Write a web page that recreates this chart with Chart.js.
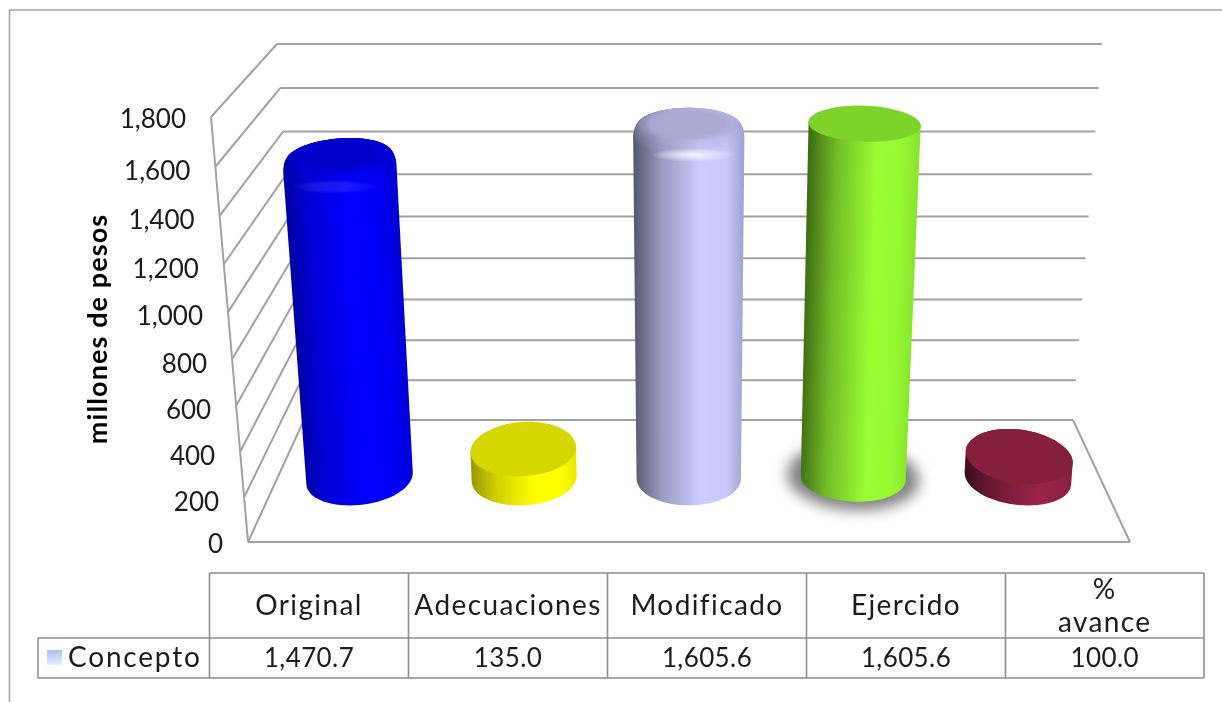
<!DOCTYPE html>
<html>
<head>
<meta charset="utf-8">
<style>
	html, body { margin: 0; padding: 0; background: #ffffff; }
	canvas { display: block; }
</style>
<script src="https://cdn.jsdelivr.net/npm/chart.js@4"></script>
</head>
<body>
<canvas id="chart" width="1222" height="702"></canvas>
<script>
const categories = ["Original", "Adecuaciones", "Modificado", "Ejercido", ["%", "avance"]];
const values = [1470.7, 135.0, 1605.6, 1605.6, 100.0];
const seriesName = "Concepto";
const axisTitle = "millones de pesos";

const FONT = "Lato, sans-serif";
const TEXT_COLOR = "#1c1c1c";
const LINE_COLOR = "#a2a2a2";
const TABLE_COLOR = "#8e8e8e";

// side shading left to right, top cap, and whether the top edge is rounded
const cylinderStyles = [
	{ stops: [[0, "#0000a8"], [0.2, "#0000d8"], [0.55, "#0000ff"], [0.85, "#0000f4"], [1, "#0000d4"]], cap: "#0000c8", rim: "rgba(60,60,255,0.3)", bevel: true },
	{ stops: [[0, "#9a9a00"], [0.25, "#d4d400"], [0.6, "#ffff00"], [0.85, "#ffff00"], [1, "#e8e800"]], cap: "#d6d600" },
	{ stops: [[0, "#585a74"], [0.25, "#9b9bc2"], [0.6, "#ccccff"], [0.85, "#c8c8fa"], [1, "#a4a4d4"]], cap: "#a9a9d2", rim: "rgba(244,244,255,0.95)", bevel: true },
	{ stops: [[0, "#3f6f14"], [0.25, "#72bb28"], [0.62, "#99ff33"], [0.85, "#96fa32"], [1, "#88e62c"]], cap: "#7dd32a", shadow: true, baseDepth: 0.2 },
	{ stops: [[0, "#3c0f1e"], [0.3, "#701a36"], [0.72, "#9c2449"], [1, "#8a2041"]], cap: "#841f3c" },
];

// corners of the 3D box: front plane comes from the chart area, back plane from these
const back = { left: 304, right: 1073, bottom: 420, top: 44, leftLean: 27, rightLean: 29 };
const frontLean = { left: 37, right: 35 };
const BAR_DEPTH = 0.53;
const BAR_RADIUS_DEPTH = 0.23;

function warp(t) {
	return t / (1.0607 - 0.0607 * t);
}

function project(area, u, t, d) {
	const f = warp(t);
	const frontLeft = area.left - frontLean.left * f;
	const frontRight = area.right + frontLean.right * f;
	const backLeft = back.left - back.leftLean * f;
	const backRight = back.right + back.rightLean * f;
	const frontX = frontLeft + (frontRight - frontLeft) * u;
	const backX = backLeft + (backRight - backLeft) * u;
	const frontY = area.bottom - (area.bottom - area.top) * f;
	const backY = back.bottom - (back.bottom - back.top) * f;
	return { x: frontX + (backX - frontX) * d, y: frontY + (backY - frontY) * d };
}

function line(ctx, a, b) {
	ctx.beginPath();
	ctx.moveTo(a.x, a.y);
	ctx.lineTo(b.x, b.y);
	ctx.stroke();
}

function drawWalls(chart) {
	const { ctx, chartArea: area } = chart;
	const yScale = chart.scales.y;
	ctx.save();
	ctx.strokeStyle = LINE_COLOR;
	ctx.lineWidth = 2;
	yScale.ticks.forEach((tick) => {
		const t = (area.bottom - yScale.getPixelForValue(tick.value)) / (area.bottom - area.top);
		line(ctx, project(area, 0, t, 0), project(area, 0, t, 1));
		line(ctx, project(area, 0, t, 1), project(area, 1, t, 1));
	});
	line(ctx, project(area, 0, 0, 0), project(area, 0, 1, 0));
	line(ctx, project(area, 0, 0, 0), project(area, 1, 0, 0));
	line(ctx, project(area, 1, 0, 0), project(area, 1, 0, 1));
	ctx.restore();
}

function drawTickLabels(chart) {
	const { ctx, chartArea: area } = chart;
	const yScale = chart.scales.y;
	ctx.save();
	ctx.fillStyle = TEXT_COLOR;
	ctx.font = "400 26px " + FONT;
	ctx.textAlign = "right";
	ctx.textBaseline = "middle";
	yScale.ticks.forEach((tick) => {
		const t = (area.bottom - yScale.getPixelForValue(tick.value)) / (area.bottom - area.top);
		const p = project(area, 0, t, 0);
		const nudge = tick.value === 0 || tick.value === 1800 ? 2.5 : 5;
		ctx.fillText(tick.label, p.x - 25, p.y + nudge);
	});
	ctx.restore();
}

function ringPoints(area, u, t, ru, d, rd) {
	const points = [];
	for (let i = 0; i < 72; i += 1) {
		const a = (i / 72) * Math.PI * 2;
		points.push(project(area, u + ru * Math.cos(a), t, d + rd * Math.sin(a)));
	}
	return points;
}

function fillOutline(ctx, points) {
	ctx.beginPath();
	points.forEach((p, i) => (i === 0 ? ctx.moveTo(p.x, p.y) : ctx.lineTo(p.x, p.y)));
	ctx.closePath();
	ctx.fill();
}

function convexHull(points) {
	const sorted = points.slice().sort((a, b) => a.x - b.x || a.y - b.y);
	const cross = (o, a, b) => (a.x - o.x) * (b.y - o.y) - (a.y - o.y) * (b.x - o.x);
	const lower = [];
	sorted.forEach((p) => {
		while (lower.length >= 2 && cross(lower[lower.length - 2], lower[lower.length - 1], p) <= 0) {
			lower.pop();
		}
		lower.push(p);
	});
	const upper = [];
	sorted.slice().reverse().forEach((p) => {
		while (upper.length >= 2 && cross(upper[upper.length - 2], upper[upper.length - 1], p) <= 0) {
			upper.pop();
		}
		upper.push(p);
	});
	return lower.slice(0, -1).concat(upper.slice(0, -1));
}

function sideGradient(ctx, area, u, t, ru, style) {
	const baseMid = project(area, u, 0, BAR_DEPTH);
	const topMid = project(area, u, t, BAR_DEPTH);
	const left = project(area, u - ru, t / 2, BAR_DEPTH);
	const right = project(area, u + ru, t / 2, BAR_DEPTH);
	const len = Math.hypot(topMid.x - baseMid.x, topMid.y - baseMid.y) || 1;
	const nx = -(topMid.y - baseMid.y) / len;
	const ny = (topMid.x - baseMid.x) / len;
	const half = (right.x - left.x) / 2;
	const midX = (left.x + right.x) / 2;
	const midY = (left.y + right.y) / 2;
	const gradient = ctx.createLinearGradient(midX - nx * half, midY - ny * half, midX + nx * half, midY + ny * half);
	style.stops.forEach((stop) => gradient.addColorStop(stop[0], stop[1]));
	return gradient;
}

function drawCylinder(chart, bar, style) {
	const { ctx, chartArea: area } = chart;
	const w = area.right - area.left;
	const h = area.bottom - area.top;
	const u = (bar.x - area.left) / w;
	const t = (bar.base - bar.y) / h;
	const ru = bar.width / 2 / w;
	const baseDepth = style.baseDepth || BAR_RADIUS_DEPTH;
	const shoulder = style.bevel ? t - 0.035 : t;

	if (style.shadow) {
		ctx.save();
		ctx.filter = "blur(7px)";
		ctx.fillStyle = "rgba(80,80,80,0.72)";
		fillOutline(ctx, ringPoints(area, u, 0, ru * 1.26, BAR_DEPTH + 0.01, baseDepth * 1.4));
		ctx.restore();
	}

	const gradient = sideGradient(ctx, area, u, shoulder, ru, style);
	ctx.fillStyle = gradient;
	const baseRing = ringPoints(area, u, 0, ru, BAR_DEPTH, baseDepth);
	const topRing = ringPoints(area, u, shoulder, ru, BAR_DEPTH, BAR_RADIUS_DEPTH);
	fillOutline(ctx, convexHull(baseRing.concat(topRing)));

	if (!style.bevel) {
		ctx.fillStyle = style.cap;
		fillOutline(ctx, topRing);
		return;
	}

	// rounded shoulder: stacked rings blending from the side shading into the cap
	for (let i = 1; i <= 10; i += 1) {
		const s = i / 10;
		const tt = shoulder + (t - shoulder) * Math.sin((s * Math.PI) / 2);
		const rr = ru * (1 - 0.12 * (1 - Math.cos((s * Math.PI) / 2)));
		const ring = ringPoints(area, u, tt, rr, BAR_DEPTH, BAR_RADIUS_DEPTH * (rr / ru));
		ctx.fillStyle = gradient;
		fillOutline(ctx, ring);
		ctx.globalAlpha = s * 0.6;
		ctx.fillStyle = style.cap;
		fillOutline(ctx, ring);
		ctx.globalAlpha = 1;
	}
	ctx.save();
	ctx.beginPath();
	ringPoints(area, u, t, ru * 0.88, BAR_DEPTH, BAR_RADIUS_DEPTH * 0.88).forEach((p) => ctx.lineTo(p.x, p.y));
	ctx.closePath();
	ctx.clip();
	ctx.filter = "blur(2px)";
	ctx.fillStyle = style.cap;
	fillOutline(ctx, ringPoints(area, u, t, ru * 0.74, BAR_DEPTH, BAR_RADIUS_DEPTH * 0.8));
	ctx.restore();

	// soft highlight on the front of the shoulder
	const glint = project(area, u + ru * 0.08, shoulder, BAR_DEPTH - BAR_RADIUS_DEPTH * 0.9);
	ctx.save();
	ctx.translate(glint.x, glint.y);
	ctx.scale(1, 0.16);
	const glow = ctx.createRadialGradient(0, 0, 0, 0, 0, 42);
	glow.addColorStop(0, style.rim);
	glow.addColorStop(1, "rgba(255,255,255,0)");
	ctx.fillStyle = glow;
	ctx.beginPath();
	ctx.arc(0, 0, 42, 0, Math.PI * 2);
	ctx.fill();
	ctx.restore();
}

function drawAxisTitle(chart) {
	const { ctx } = chart;
	ctx.save();
	ctx.translate(98, 329);
	ctx.rotate(-Math.PI / 2);
	ctx.fillStyle = "#000000";
	ctx.font = "bold 27px " + FONT;
	ctx.letterSpacing = "1.1px";
	ctx.textAlign = "center";
	ctx.textBaseline = "middle";
	ctx.fillText(axisTitle, 0, 0);
	ctx.restore();
}

function drawTable(chart) {
	const { ctx } = chart;
	const colX = [209.5, 408.5, 607.5, 806.5, 1005.5, 1204];
	const tableLeft = 38;
	const rowTop = 573;
	const rowMid = 638;
	const rowBottom = 678;
	ctx.save();
	ctx.strokeStyle = TABLE_COLOR;
	ctx.lineWidth = 1.6;
	line(ctx, { x: colX[0], y: rowTop }, { x: colX[5], y: rowTop });
	line(ctx, { x: tableLeft, y: rowMid }, { x: colX[5], y: rowMid });
	line(ctx, { x: tableLeft, y: rowBottom }, { x: colX[5], y: rowBottom });
	line(ctx, { x: tableLeft, y: rowMid }, { x: tableLeft, y: rowBottom });
	colX.forEach((x) => line(ctx, { x: x, y: rowTop }, { x: x, y: rowBottom }));

	ctx.fillStyle = TEXT_COLOR;
	ctx.textAlign = "center";
	ctx.textBaseline = "middle";
	categories.forEach((label, i) => {
		const center = (colX[i] + colX[i + 1]) / 2;
		ctx.font = "400 28px " + FONT;
		ctx.letterSpacing = "1.4px";
		if (Array.isArray(label)) {
			ctx.fillText(label[0], center, 590);
			ctx.fillText(label[1], center, 623);
		} else {
			ctx.fillText(label, center, 606);
		}
		ctx.font = "400 26px " + FONT;
		ctx.letterSpacing = "0.4px";
		ctx.fillText(values[i].toLocaleString("en-US", { minimumFractionDigits: 1, maximumFractionDigits: 1 }), center, 659);
	});
	ctx.textAlign = "left";
	ctx.font = "400 28px " + FONT;
	ctx.letterSpacing = "1.8px";
	ctx.fillText(seriesName, 68, 658);

	const swatch = ctx.createLinearGradient(0, 650, 0, 665);
	swatch.addColorStop(0, "#a5c5f5");
	swatch.addColorStop(1, "#e4eefd");
	ctx.fillStyle = swatch;
	ctx.fillRect(47, 650, 15, 15);
	ctx.restore();
}

const scene3d = {
	id: "scene3d",
	beforeDraw(chart) {
		const { ctx, width, height } = chart;
		ctx.save();
		ctx.fillStyle = "#ffffff";
		ctx.fillRect(0, 0, width, height);
		ctx.strokeStyle = LINE_COLOR;
		ctx.lineWidth = 1.5;
		ctx.beginPath();
		ctx.moveTo(9.5, height);
		ctx.lineTo(9.5, 10);
		ctx.lineTo(width, 10);
		ctx.stroke();
		ctx.restore();
		drawWalls(chart);
	},
	afterDatasetsDraw(chart) {
		chart.getDatasetMeta(0).data.forEach((bar, i) => {
			drawCylinder(chart, bar, cylinderStyles[i]);
		});
		drawTickLabels(chart);
		drawAxisTitle(chart);
		drawTable(chart);
	},
};

new Chart(document.getElementById("chart"), {
	type: "bar",
	data: {
		labels: categories,
		datasets: [{
			label: seriesName,
			data: values,
			backgroundColor: "rgba(0,0,0,0)",
			borderWidth: 0,
			categoryPercentage: 1,
			barPercentage: 0.635,
		}],
	},
	options: {
		responsive: false,
		animation: false,
		layout: { padding: { left: 248, right: 92, top: 117, bottom: 160 } },
		plugins: {
			legend: { display: false },
			title: { display: false },
			tooltip: { enabled: false },
		},
		scales: {
			x: { display: false },
			y: {
				display: false,
				min: 0,
				max: 1800,
				ticks: {
					stepSize: 200,
					callback: (value) => value.toLocaleString("en-US"),
				},
			},
		},
	},
	plugins: [scene3d],
});
</script>
</body>
</html>
